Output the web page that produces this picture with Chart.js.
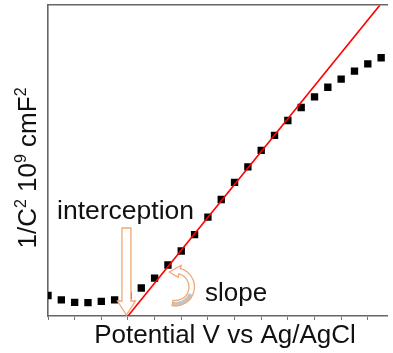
<!DOCTYPE html>
<html>
<head>
<meta charset="utf-8">
<script src="https://cdn.jsdelivr.net/npm/chart.js@4/dist/chart.umd.min.js"></script>
<style>
  html, body { margin: 0; padding: 0; background: #fff; }
  #wrap { width: 393px; height: 353px; position: relative; }
</style>
</head>
<body>
<div id="wrap"><canvas id="mott"></canvas></div>
<script>
// Mott-Schottky data (arbitrary units)
const potential = [-1.00, -0.95, -0.90, -0.85, -0.80, -0.75, -0.70, -0.65, -0.60, -0.55,
                   -0.50, -0.45, -0.40, -0.35, -0.30, -0.25, -0.20, -0.15, -0.10, -0.05,
                    0.00,  0.05,  0.10,  0.15,  0.20,  0.25];
const invC2 = [0.66, 0.52, 0.44, 0.43, 0.47, 0.52, 0.66, 0.90, 1.22, 1.64,
               2.09, 2.62, 3.18, 3.75, 4.30, 4.80, 5.33, 5.81, 6.29, 6.71,
               7.05, 7.36, 7.62, 7.88, 8.11, 8.31];
// linear fit of the straight part
const fitX = [-0.70, 0.245];
const fitY = [0, 10];
const xRange = [-1.0, 0.275];
const yRange = [0, 10];

const textColor = '#111';
const arrowOrange = '#f2a874';

function drawRuns(ctx, runs, x, y, size) {
    let cx = x;
    runs.forEach(function(r) {
        const s = r.sup ? Math.round(size * 0.6) : size;
        ctx.font = s + 'px "Liberation Sans", Arial, sans-serif';
        ctx.fillText(r.t, cx, r.sup ? y - size * 0.38 : y);
        cx += ctx.measureText(r.t).width;
    });
    return cx - x;
}

function runsWidth(ctx, runs, size) {
    let w = 0;
    runs.forEach(function(r) {
        const s = r.sup ? Math.round(size * 0.6) : size;
        ctx.font = s + 'px "Liberation Sans", Arial, sans-serif';
        w += ctx.measureText(r.t).width;
    });
    return w;
}

// outline of the curved "slope" arrow
function slopeArrowPath(ctx, cx, cy) {
    const rO = 19, rI = 13.5, rM = 16.25;
    const a0 = -75 * Math.PI / 180, a1 = 100 * Math.PI / 180;
    const tipA = -112 * Math.PI / 180;
    ctx.beginPath();
    ctx.arc(cx, cy, rO, a0, a1, false);
    ctx.lineTo(cx + rI * Math.cos(a1), cy + rI * Math.sin(a1));
    ctx.arc(cx, cy, rI, a1, a0, true);
    ctx.lineTo(cx + (rI - 3.5) * Math.cos(a0), cy + (rI - 3.5) * Math.sin(a0));
    ctx.lineTo(cx + rM * Math.cos(tipA), cy + rM * Math.sin(tipA));
    ctx.lineTo(cx + (rO + 3.5) * Math.cos(a0), cy + (rO + 3.5) * Math.sin(a0));
    ctx.closePath();
}

const annotations = {
    id: 'annotations',
    afterDatasetsDraw(chart) {
        const ctx = chart.ctx;
        const xs = chart.scales.x, ys = chart.scales.y;
        const tx = xs.getPixelForValue(fitX[0]) - 1.5;
        const ty = ys.getPixelForValue(fitY[0]) - 1;

        ctx.save();
        // hollow block arrow pointing at the intercept
        ctx.beginPath();
        ctx.moveTo(tx - 4.5, ty - 87);
        ctx.lineTo(tx + 4.5, ty - 87);
        ctx.lineTo(tx + 4.5, ty - 14);
        ctx.lineTo(tx + 9, ty - 14);
        ctx.lineTo(tx, ty);
        ctx.lineTo(tx - 9, ty - 14);
        ctx.lineTo(tx - 4.5, ty - 14);
        ctx.closePath();
        ctx.fillStyle = '#fff';
        ctx.fill();
        ctx.strokeStyle = arrowOrange;
        ctx.lineWidth = 1.3;
        ctx.stroke();

        // curved arrow showing the slope
        const cx = tx + 49, cy = ty - 28;
        slopeArrowPath(ctx, cx, cy);
        ctx.fillStyle = '#fff';
        ctx.fill();
        // grey underside of the ribbon
        const g0 = 25 * Math.PI / 180, g1 = 100 * Math.PI / 180;
        ctx.beginPath();
        ctx.arc(cx, cy, 19, g0, g1, false);
        ctx.arc(cx, cy, 15, g1, g0, true);
        ctx.closePath();
        ctx.fillStyle = '#c4c4c4';
        ctx.fill();
        slopeArrowPath(ctx, cx, cy);
        ctx.strokeStyle = arrowOrange;
        ctx.lineWidth = 1.3;
        ctx.stroke();
        ctx.restore();
    },
    afterDraw(chart) {
        const ctx = chart.ctx;
        ctx.save();
        ctx.fillStyle = textColor;
        ctx.textBaseline = 'alphabetic';
        ctx.textAlign = 'left';
        ctx.font = '26.5px "Liberation Sans", Arial, sans-serif';
        ctx.fillText('interception', 57, 219);
        ctx.font = '26px "Liberation Sans", Arial, sans-serif';
        ctx.fillText('slope', 205, 301);

        // x axis title
        ctx.font = '26px "Liberation Sans", Arial, sans-serif';
        ctx.textAlign = 'center';
        ctx.fillText('Potential V vs Ag/AgCl', 225, 343);

        // y axis title with superscripts
        ctx.textAlign = 'left';
        const runs = [{t: '1/C'}, {t: '2', sup: true}, {t: ' 10'}, {t: '9', sup: true},
                      {t: ' cmF'}, {t: '2', sup: true}];
        const w = runsWidth(ctx, runs, 26);
        ctx.translate(36, 168);
        ctx.rotate(-Math.PI / 2);
        drawRuns(ctx, runs, -w / 2, 0, 26);
        ctx.restore();
    }
};

document.addEventListener('DOMContentLoaded', function() {
    const ctx = document.getElementById('mott');

    new Chart(ctx, {
        type: 'scatter',
        data: {
            datasets: [
                {
                    label: '1/C2',
                    data: potential.map(function(p, i) { return {x: p, y: invC2[i]}; }),
                    pointStyle: 'rect',
                    pointRadius: 5.2,
                    backgroundColor: '#000',
                    borderColor: '#000',
                    borderWidth: 0,
                    order: 2
                },
                {
                    label: 'fit',
                    type: 'line',
                    data: fitX.map(function(v, i) { return {x: v, y: fitY[i]}; }),
                    borderColor: '#ff0000',
                    borderWidth: 1.6,
                    pointRadius: 0,
                    fill: false,
                    order: 1
                }
            ]
        },
        options: {
            responsive: true,
            maintainAspectRatio: false,
            devicePixelRatio: 1,
            animation: false,
            layout: {
                padding: { left: 48, top: 5, right: 0, bottom: 33 }
            },
            plugins: {
                legend: { display: false },
                tooltip: { enabled: false }
            },
            scales: {
                x: {
                    type: 'linear',
                    position: 'bottom',
                    min: xRange[0],
                    max: xRange[1],
                    ticks: { display: false, stepSize: 0.1, includeBounds: false },
                    grid: {
                        display: true,
                        drawOnChartArea: false,
                        drawTicks: true,
                        tickLength: 4,
                        color: '#777',
                        lineWidth: 1
                    },
                    border: { display: true, color: '#666', width: 1.6 }
                },
                xTop: {
                    type: 'linear',
                    position: 'top',
                    min: xRange[0],
                    max: xRange[1],
                    ticks: { display: false },
                    grid: { display: false, drawTicks: false },
                    border: { display: true, color: '#666', width: 1.6 }
                },
                y: {
                    type: 'linear',
                    min: yRange[0],
                    max: yRange[1],
                    ticks: { display: false },
                    grid: { display: false, drawTicks: false },
                    border: { display: true, color: '#666', width: 1.6 }
                }
            }
        },
        plugins: [annotations]
    });
});
</script>
</body>
</html>
